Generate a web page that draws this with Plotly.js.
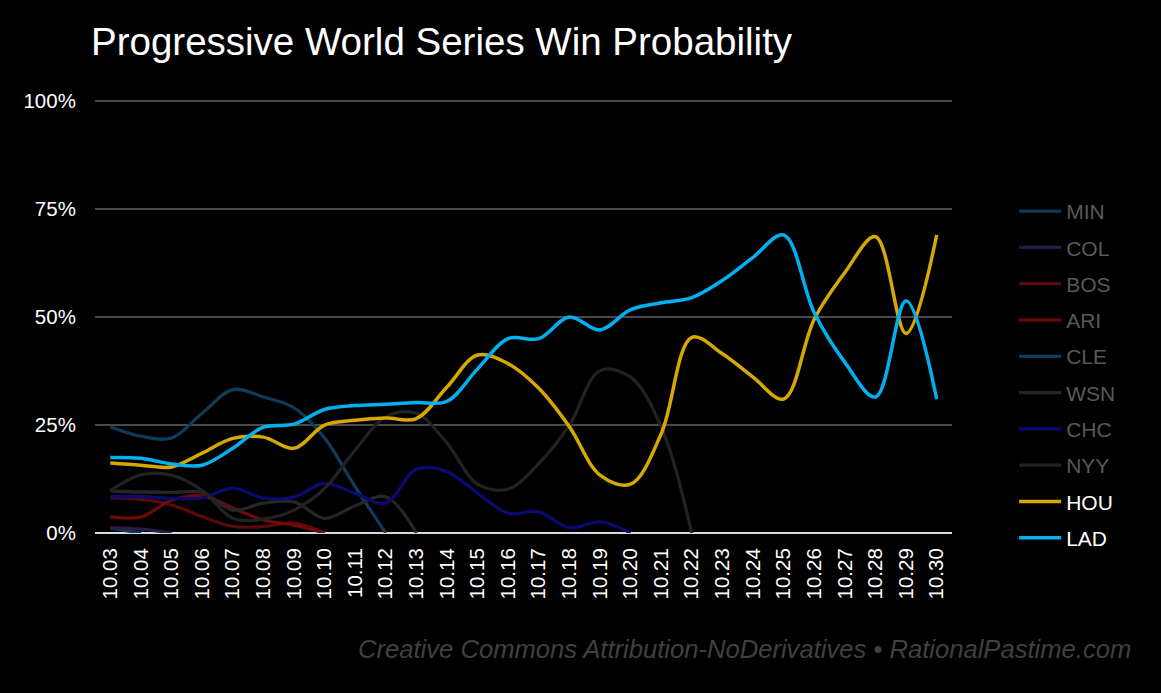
<!DOCTYPE html>
<html>
<head>
<meta charset="utf-8">
<script src="https://cdn.plot.ly/plotly-3.0.1.min.js"></script>
<style>html,body{margin:0;padding:0;background:#000;}#chart{width:1161px;height:693px;}</style>
</head>
<body>
<div id="chart"></div>
<script>
const dates = ['10.03','10.04','10.05','10.06','10.07','10.08','10.09','10.10','10.11','10.12','10.13','10.14','10.15','10.16','10.17','10.18','10.19','10.20','10.21','10.22','10.23','10.24','10.25','10.26','10.27','10.28','10.29','10.30'];
const teams = ['MIN','COL','BOS','ARI','CLE','WSN','CHC','NYY','HOU','LAD'];
const teamColors = ['#0f3a56','#2e1a48','#5c0909','#6e0a0a','#0f3c5a','#262626','#0a0a72','#222222','#d6a800','#00b0f0'];
const yTicks = [0,25,50,75,100];

const MIN = [1.1,0];
const COL = [1.2,0.9,0];
const BOS = [8.1,7.8,6.5,3.8,1.5,1.5,2.3,0];
const ARI = [3.8,3.7,7.6,8.6,5.8,3.0,1.8,0];
const CLE = [24.6,22.4,22.0,27.7,33.2,31.5,29.0,22.0,10.7,0];
const WSN = [9.7,9.5,9.4,9.4,5.3,6.9,7.2,3.4,6.3,8.4,0];
const CHC = [8.4,8.4,8.0,8.1,10.4,8.1,8.3,11.5,9.2,6.9,14.8,14.2,9.2,4.6,4.9,1.2,2.6,0];
const NYY = [9.8,13.5,13.4,9.9,3.4,3.2,5.3,10.3,19.2,26.9,27.7,20.8,11.3,10.2,16.1,25.0,37.6,36.1,24.6,0];
const HOU = [16.2,15.7,15.3,18.5,21.9,22.2,19.6,25.0,26.1,26.6,26.5,33.8,41.2,39.2,33.5,24.6,13.4,11.3,23.0,45.3,41.5,36.1,31.0,49.5,60.3,68.6,46.2,69.0];
const LAD = [17.5,17.3,16.0,15.7,19.6,24.5,25.2,28.6,29.5,29.8,30.2,30.5,38.0,45.0,45.0,50.0,47.0,51.7,53.3,54.5,58.5,63.8,69.0,51.0,39.5,31.5,53.8,31.0];

const series = [MIN,COL,BOS,ARI,CLE,WSN,CHC,NYY,HOU,LAD];

const traces = teams.map((t,i) => {
  const highlight = (t === 'HOU' || t === 'LAD');
  const ys = dates.map((d,j) => (j < series[i].length ? series[i][j] : null));
  return {
    type: 'scatter',
    mode: 'lines',
    x: dates,
    y: ys,
    name: highlight ? '<span style="color:#ffffff">' + t + '</span>' : t,
    legendgroup: t,
    line: {color: teamColors[i], width: highlight ? 3.5 : 3.2, shape: 'spline', smoothing: 1},
    connectgaps: false,
    hoverinfo: 'x+y+name'
  };
});

const layout = {
  width: 1161,
  height: 693,
  paper_bgcolor: '#000000',
  plot_bgcolor: '#000000',
  font: {family: '"Liberation Sans", Arial, sans-serif', color: '#ffffff', size: 20},
  margin: {l: 95, r: 209, t: 100, b: 160, pad: 0},
  title: {
    text: 'Progressive World Series Win Probability',
    font: {size: 38.5, color: '#ffffff', family: '"Liberation Sans", Arial, sans-serif'},
    x: 91/1161, xref: 'container', xanchor: 'left',
    y: 1 - 42/693, yref: 'container', yanchor: 'middle'
  },
  xaxis: {
    type: 'category',
    range: [-0.5, dates.length - 0.5],
    tickangle: -90,
    tickfont: {size: 20.5, color: '#ffffff'},
    showgrid: false,
    zeroline: false,
    showline: false,
    ticks: 'outside', ticklen: 6, tickcolor: 'rgba(0,0,0,0)',
    fixedrange: true
  },
  yaxis: {
    range: [0, 100.25],
    tickvals: yTicks,
    ticktext: yTicks.map(v => v + '%'),
    tickfont: {size: 20.5, color: '#ffffff'},
    showgrid: true,
    gridcolor: '#4a4a4a',
    gridwidth: 1.5,
    zeroline: true,
    zerolinecolor: '#d9d9d9',
    zerolinewidth: 2.5,
    ticks: 'outside', ticklen: 14, tickcolor: 'rgba(0,0,0,0)',
    fixedrange: true
  },
  showlegend: true,
  legend: {
    x: 1.0725, xanchor: 'left',
    y: 0.79, yanchor: 'top',
    font: {size: 21, color: '#595959'},
    bgcolor: 'rgba(0,0,0,0)',
    traceorder: 'grouped',
    tracegroupgap: 6,
    itemwidth: 42
  },
  annotations: [{
    text: 'Creative Commons Attribution-NoDerivatives • RationalPastime.com',
    xref: 'paper', yref: 'paper',
    x: (1133 - 95) / 857, y: (533 - 649) / 433,
    xanchor: 'right', yanchor: 'middle',
    showarrow: false,
    font: {size: 25.6, color: '#404040', family: '"Liberation Sans", Arial, sans-serif', style: 'italic'}
  }]
};

Plotly.newPlot('chart', traces, layout, {displayModeBar: false, staticPlot: true});
</script>
</body>
</html>
